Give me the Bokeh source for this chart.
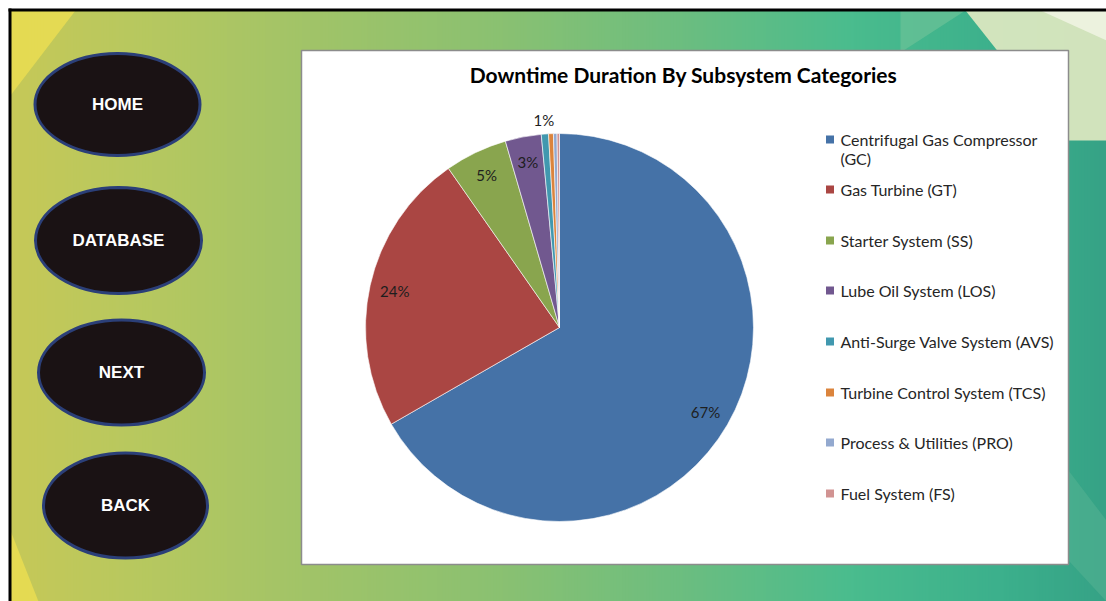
import numpy as np
from bokeh.plotting import figure
from bokeh.models import Range1d
from bokeh.core.properties import value
from bokeh.embed import file_html
from bokeh.resources import INLINE

# ---------------- data ----------------
chart_title = "Downtime Duration By Subsystem Categories"
categories = ["Centrifugal Gas Compressor (GC)", "Gas Turbine (GT)", "Starter System (SS)",
              "Lube Oil System (LOS)", "Anti-Surge Valve System (AVS)",
              "Turbine Control System (TCS)", "Process & Utilities (PRO)", "Fuel System (FS)"]
shares = [66.7, 23.6, 5.2, 3.0, 0.6, 0.4, 0.3, 0.2]
colors = ["#4572A7", "#AA4643", "#89A54E", "#71588F", "#4198AF", "#DB843D", "#93A9CF", "#D19392"]
buttons = ["HOME", "DATABASE", "NEXT", "BACK"]

# ---------------- layout (page pixels) ----------------
W, H = 1106, 601
X0, Y0 = 0, 0
p = figure(width=W, height=H, output_backend="svg", toolbar_location=None,
           x_range=Range1d(X0, X0 + W), y_range=Range1d(-(Y0 + H), -Y0),
           min_border=0, outline_line_color=None)
p.axis.visible = False
p.grid.visible = False
p.background_fill_color = "white"
p.border_fill_color = "white"

def Y(py):
    return -py

# background gradient (left -> right)
stops_x = [10, 150, 300, 500, 680, 850, 1000, 1106]
stops_c = [(198, 200, 88), (182, 200, 96), (162, 196, 104), (138, 193, 114),
           (108, 190, 128), (74, 188, 142), (60, 176, 140), (54, 162, 134)]
xs = np.arange(10, 1106, 3)
lefts, rights, cols = [], [], []
for x in xs:
    r = np.interp(x, stops_x, [c[0] for c in stops_c])
    g = np.interp(x, stops_x, [c[1] for c in stops_c])
    b = np.interp(x, stops_x, [c[2] for c in stops_c])
    lefts.append(x); rights.append(x + 3.5)
    cols.append("#%02x%02x%02x" % (int(r), int(g), int(b)))
p.quad(left=lefts, right=rights, top=Y(10), bottom=Y(601), fill_color=cols, line_color=None)

# decorative corner shapes
p.patch([10, 75, 10], [Y(10), Y(10), Y(95)], fill_color="#e8dc52", line_color=None, fill_alpha=0.9)
p.patch([10, 10, 38], [Y(530), Y(601), Y(601)], fill_color="#e8dc52", line_color=None, fill_alpha=0.9)
p.patch([900, 965, 900], [Y(10), Y(10), Y(52)], fill_color="#66c096", line_color=None, fill_alpha=0.8)
p.patch([965, 1106, 1106, 1068], [Y(10), Y(10), Y(140), Y(140)], fill_color="#e2eac2", line_color=None, fill_alpha=0.9)
p.patch([1040, 1106, 1106], [Y(10), Y(10), Y(40)], fill_color="#f2f5e6", line_color=None, fill_alpha=0.8)
p.patch([1068, 1106, 1106, 1068], [Y(470), Y(520), Y(601), Y(560)], fill_color="#58b494", line_color=None, fill_alpha=0.5)

# black frame edges
p.line([8, 1106], [Y(9.5), Y(9.5)], line_color="black", line_width=3)
p.line([9.5, 9.5], [Y(8), Y(601)], line_color="black", line_width=3)

# buttons
bx = [117, 118, 121, 125]
by = [104, 240, 372, 505]
bw = [165, 166, 166, 164]
bh = [102, 106, 105, 105]
p.ellipse(x=bx, y=[Y(v) for v in by], width=bw, height=bh,
          fill_color="#1a1214", line_color="#2b3f78", line_width=3)
p.text(x=bx, y=[Y(v) for v in by], text=buttons, text_align="center", text_baseline="middle",
       text_color="white", text_font=value("Liberation Sans"), text_font_style="bold",
       text_font_size="17px")

# chart box
p.quad(left=[301], right=[1068], top=[Y(50)], bottom=[Y(564)],
       fill_color="white", line_color="#8c8c8c", line_width=1.5)

# title
p.text(x=[683], y=[Y(74)], text=[chart_title], text_align="center", text_baseline="middle",
       text_color="black", text_font=value("Lato"), text_font_style="bold", text_font_size="21px")

# pie
cx, cy, R = 559, 327, 194
fr = np.array(shares) / np.sum(shares)
cum = np.concatenate([[0], np.cumsum(fr)])
starts = np.pi / 2 - 2 * np.pi * cum[1:]
ends = np.pi / 2 - 2 * np.pi * cum[:-1]
p.wedge(x=cx, y=Y(cy), radius=R, start_angle=starts, end_angle=ends, direction="anticlock",
        fill_color=colors, line_color="white", line_width=0.6)

# pie labels
lx, ly, lt = [], [], []
for i, s in enumerate(shares):
    pct = round(s)
    if pct < 1:
        continue
    mid = (starts[i] + ends[i]) / 2
    rr = 0.87 * R if s >= 2 else R + 14
    lx.append(cx + rr * np.cos(mid))
    ly.append(Y(cy) + rr * np.sin(mid))
    lt.append(f"{pct}%")
p.text(x=lx, y=ly, text=lt, text_align="center", text_baseline="middle", text_color="#1e1e1e",
       text_font=value("Lato"), text_font_size="15px")

# legend
leg_y = [139, 189, 240, 290, 341, 392, 442, 493]
legend_lines = []
for c in categories:
    if c.startswith("Centrifugal"):
        legend_lines.append(("Centrifugal Gas Compressor", "(GC)"))
    else:
        legend_lines.append((c, None))
p.rect(x=[829.5] * len(leg_y), y=[Y(v) for v in leg_y], width=8, height=8,
       fill_color=colors, line_color=None)
tx, ty, tt = [], [], []
for v, (a, b) in zip(leg_y, legend_lines):
    tx.append(840); ty.append(Y(v)); tt.append(a)
    if b:
        tx.append(840); ty.append(Y(v + 19)); tt.append(b)
p.text(x=tx, y=ty, text=tt, text_align="left", text_baseline="middle", text_color="#262626",
       text_font=value("Lato"), text_font_size="16px")

open("out.html", "w").write(file_html(p, INLINE))
